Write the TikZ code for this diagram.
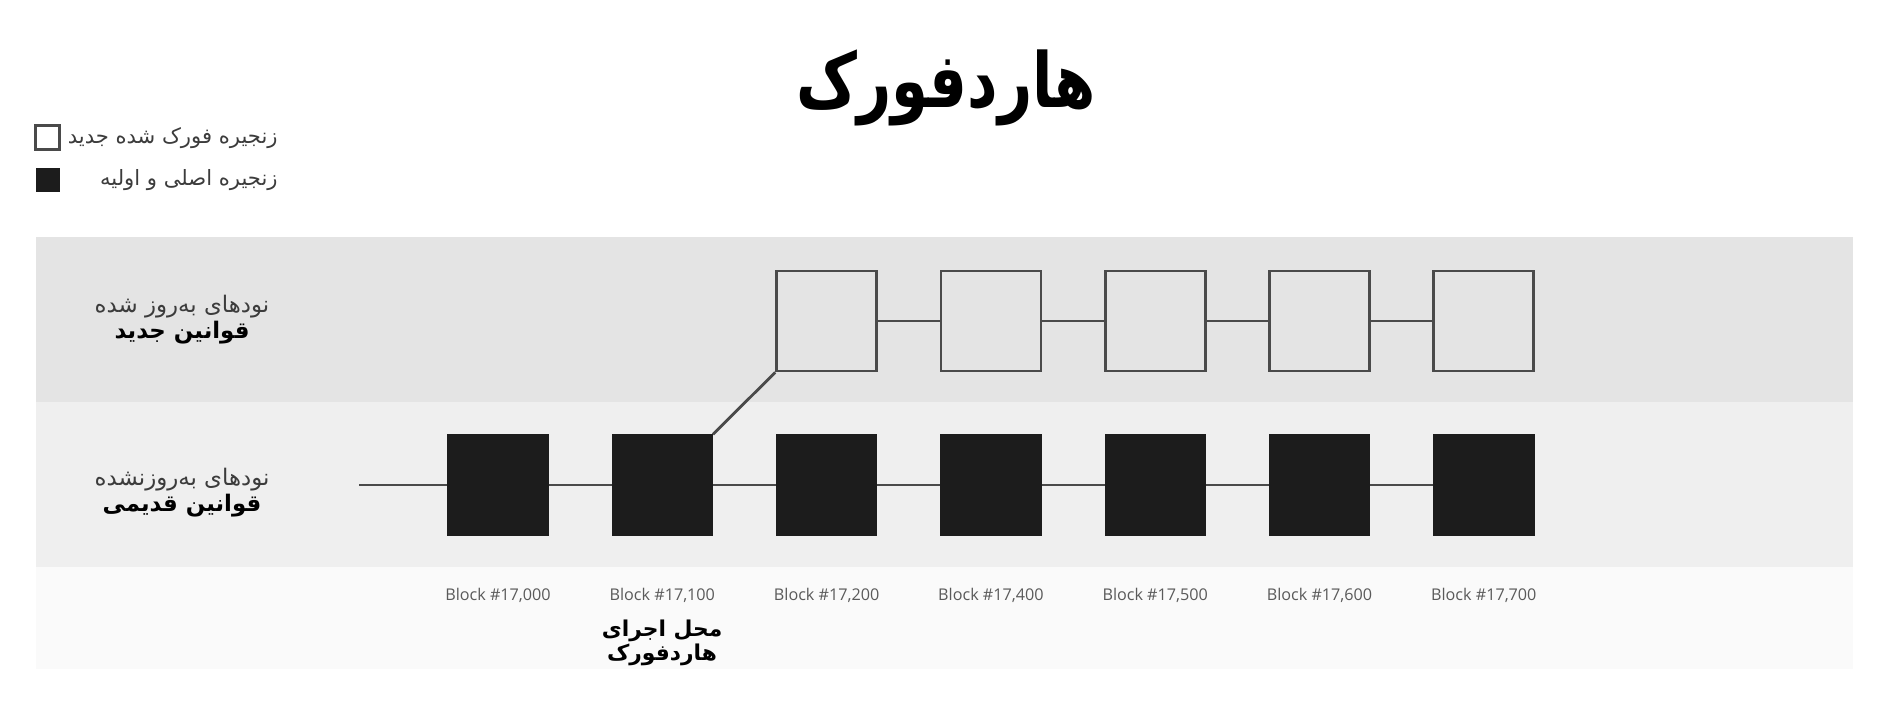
\documentclass[tikz,border=0pt]{standalone}
\usepackage{fontspec}
\setmainfont{Open Sans}
\newfontfamily\farsi[Script=Arabic]{DejaVu Sans}
\TeXXeTstate=1
\definecolor{bandtop}{HTML}{E4E4E4}
\definecolor{bandlow}{HTML}{EFEFEF}
\definecolor{bandfoot}{HTML}{FAFAFA}
\definecolor{blockblack}{HTML}{1C1C1C}
\definecolor{edgegray}{HTML}{4A4A4A}
\definecolor{textgray}{HTML}{3C3C3C}
\definecolor{labelgray}{HTML}{5A5A5A}
\newcommand{\fatext}[1]{{\farsi\beginR #1\endR}}

\begin{document}
\begin{tikzpicture}[
		oldblock/.style={rectangle,fill=blockblack,draw=blockblack,minimum size=1cm,inner sep=0pt},
		newblock/.style={rectangle,fill=bandtop,draw=edgegray,line width=0.8pt,minimum size=1cm,inner sep=0pt},
		chainline/.style={draw=edgegray,line width=0.8pt},
		blocklabel/.style={font=\fontsize{4.6}{5}\selectfont,text=labelgray},
		sidelabel/.style={font=\fontsize{6.5}{7.4}\selectfont,text=textgray,align=center},
		keytext/.style={font=\fontsize{6}{7}\selectfont,text=textgray,anchor=east}]
		\useasboundingbox (0,0) rectangle (18.9,-7.07);
		
		% Add background bands
		\fill[bandfoot] (0.36,-5.67) rectangle (18.53,-6.69);
		\fill[bandlow] (0.36,-4.02) rectangle (18.53,-5.67);
		\fill[bandtop] (0.36,-2.37) rectangle (18.53,-4.02);
		
		% Add title
		\node (title) at (9.46,-0.88) {\scalebox{0.94}[1.2]{\fontsize{18}{22}\selectfont\bfseries\fatext{هاردفورک}}};
		
		% Add legend
		\node[draw=edgegray,fill=white,line width=0.8pt,minimum size=0.24cm,inner sep=0pt] (keynew) at (0.475,-1.375) {};
		\node[fill=blockblack,minimum size=0.24cm,inner sep=0pt] (keyold) at (0.475,-1.80) {};
		\node[keytext] (keynewtext) at (2.90,-1.38) {\fatext{زنجیره فورک شده جدید}};
		\node[keytext] (keyoldtext) at (2.90,-1.80) {\fatext{زنجیره اصلی و اولیه}};
		
		% Add row labels
		\node[sidelabel] (newrules) at (1.82,-3.20) {\fatext{نودهای به‌روز شده}\\{\color{black}\bfseries\fatext{قوانین جدید}}};
		\node[sidelabel] (oldrules) at (1.82,-4.93) {\fatext{نودهای به‌روزنشده}\\{\color{black}\bfseries\fatext{قوانین قدیمی}}};
		
		% Add old chain
		\coordinate (start) at (3.59,-4.85);
		\foreach \N [count=\i from 0] in {000,100,200,400,500,600,700} {
			\node[oldblock] (o\i) at (4.98+1.643*\i,-4.85) {};
			\node[blocklabel] (l\i) at (4.98+1.643*\i,-5.95) {Block \#17,\N};
		}
		\draw[chainline] (start) -- (o0);
		\foreach \i in {1,...,6} {
			\draw[chainline] (o\the\numexpr\i-1) -- (o\i);
		}
		
		% Add new chain
		\foreach \i in {2,...,6} {
			\node[newblock] (n\i) at (4.98+1.643*\i,-3.21) {};
			\ifnum\i>2
			\draw[chainline] (n\the\numexpr\i-1) -- (n\i);
			\fi
		}
		\draw[chainline] (o1.north east) -- (n2.south west);
		
		% Add fork point
		\node[font=\fontsize{6.2}{6.8}\selectfont\bfseries,align=center] (forkpoint) at (6.62,-6.43) {\fatext{محل اجرای}\\\fatext{هاردفورک}};
		
	\end{tikzpicture}
\end{document}
